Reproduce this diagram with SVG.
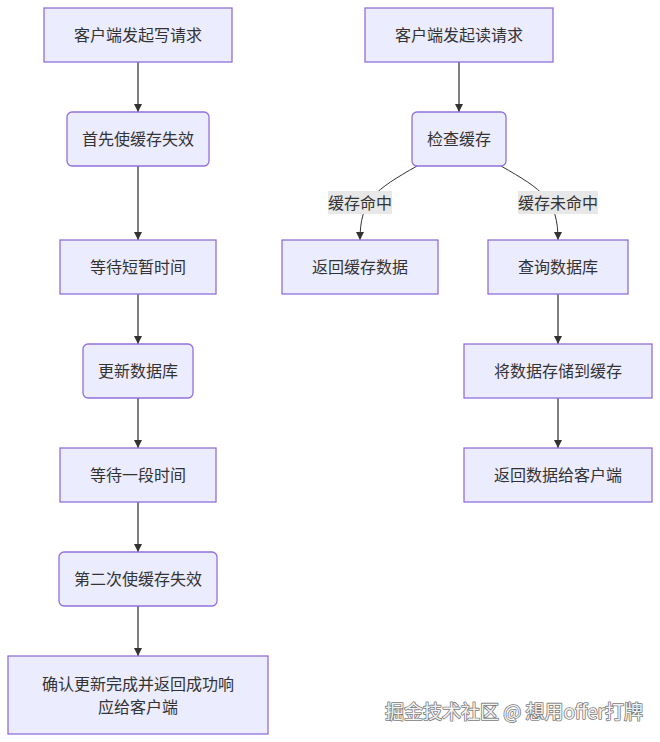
<svg xmlns="http://www.w3.org/2000/svg" width="660" height="742" viewBox="0 0 660 742">
<style>
.n rect{fill:#ECECFF;stroke:#9370DB;stroke-width:1.3}
.n text,.lbl text{font-family:"Noto Sans CJK SC","Noto Sans",sans-serif;font-size:16px;fill:#333;text-anchor:middle;dominant-baseline:central}
.e{fill:none;stroke:#555;stroke-width:1.5}
.c{fill:none;stroke:#333;stroke-width:1}
.lbl rect{fill:#e8e8e8}
.wm{font-family:"Noto Sans CJK SC","Noto Sans",sans-serif;font-size:19px;fill:#f2f2f2;stroke:#7a7a7a;stroke-width:1.6;paint-order:stroke;stroke-linejoin:round}
</style>
<defs>
<marker id="arr" viewBox="0 0 10 10" refX="10" refY="5" markerWidth="8" markerHeight="8" markerUnits="userSpaceOnUse" orient="auto">
<path d="M0,0L10,5L0,10z" fill="#333"/>
</marker>
</defs>
<g id="edges">
<path class="e" d="M138,62V112" marker-end="url(#arr)"/>
<path class="e" d="M138,166V240" marker-end="url(#arr)"/>
<path class="e" d="M138,294V344" marker-end="url(#arr)"/>
<path class="e" d="M138,398V448" marker-end="url(#arr)"/>
<path class="e" d="M138,502V552" marker-end="url(#arr)"/>
<path class="e" d="M138,606V656" marker-end="url(#arr)"/>
<path class="e" d="M459,62V112" marker-end="url(#arr)"/>
<path class="c" d="M417,166C375,190 360,200 360,240" marker-end="url(#arr)"/>
<path class="c" d="M501,166C543,190 558,200 558,240" marker-end="url(#arr)"/>
<path class="e" d="M558,294V344" marker-end="url(#arr)"/>
<path class="e" d="M558,398V448" marker-end="url(#arr)"/>
<g class="lbl"><rect x="328" y="191" width="64" height="23"/><text x="360" y="201.5">缓存命中</text></g>
<g class="lbl"><rect x="518" y="191" width="80" height="23"/><text x="558" y="201.5">缓存未命中</text></g>
</g>
<g id="w1" class="n"><rect x="44" y="8" width="188" height="54"/><text x="138" y="34">客户端发起写请求</text></g>
<g id="w2" class="n"><rect x="67" y="112" width="142" height="54" rx="5"/><text x="138" y="138">首先使缓存失效</text></g>
<g id="w3" class="n"><rect x="60" y="240" width="156" height="54"/><text x="138" y="266">等待短暂时间</text></g>
<g id="w4" class="n"><rect x="83" y="344" width="110" height="54" rx="5"/><text x="138" y="370">更新数据库</text></g>
<g id="w5" class="n"><rect x="60" y="448" width="156" height="54"/><text x="138" y="474">等待一段时间</text></g>
<g id="w6" class="n"><rect x="59" y="552" width="158" height="54" rx="5"/><text x="138" y="578">第二次使缓存失效</text></g>
<g id="w7" class="n"><rect x="8" y="656" width="260" height="78"/><text x="138" y="683">确认更新完成并返回成功响</text><text x="138" y="706">应给客户端</text></g>
<g id="r1" class="n"><rect x="365" y="8" width="188" height="54"/><text x="459" y="34">客户端发起读请求</text></g>
<g id="r2" class="n"><rect x="412" y="112" width="94" height="54" rx="5"/><text x="459" y="138">检查缓存</text></g>
<g id="r3" class="n"><rect x="282" y="240" width="156" height="54"/><text x="360" y="266">返回缓存数据</text></g>
<g id="r4" class="n"><rect x="488" y="240" width="140" height="54"/><text x="558" y="266">查询数据库</text></g>
<g id="r5" class="n"><rect x="464" y="344" width="188" height="54"/><text x="558" y="370">将数据存储到缓存</text></g>
<g id="r6" class="n"><rect x="464" y="448" width="188" height="54"/><text x="558" y="474">返回数据给客户端</text></g>
<text class="wm" x="385" y="719">掘金技术社区 @ 想用offer打牌</text>
</svg>
